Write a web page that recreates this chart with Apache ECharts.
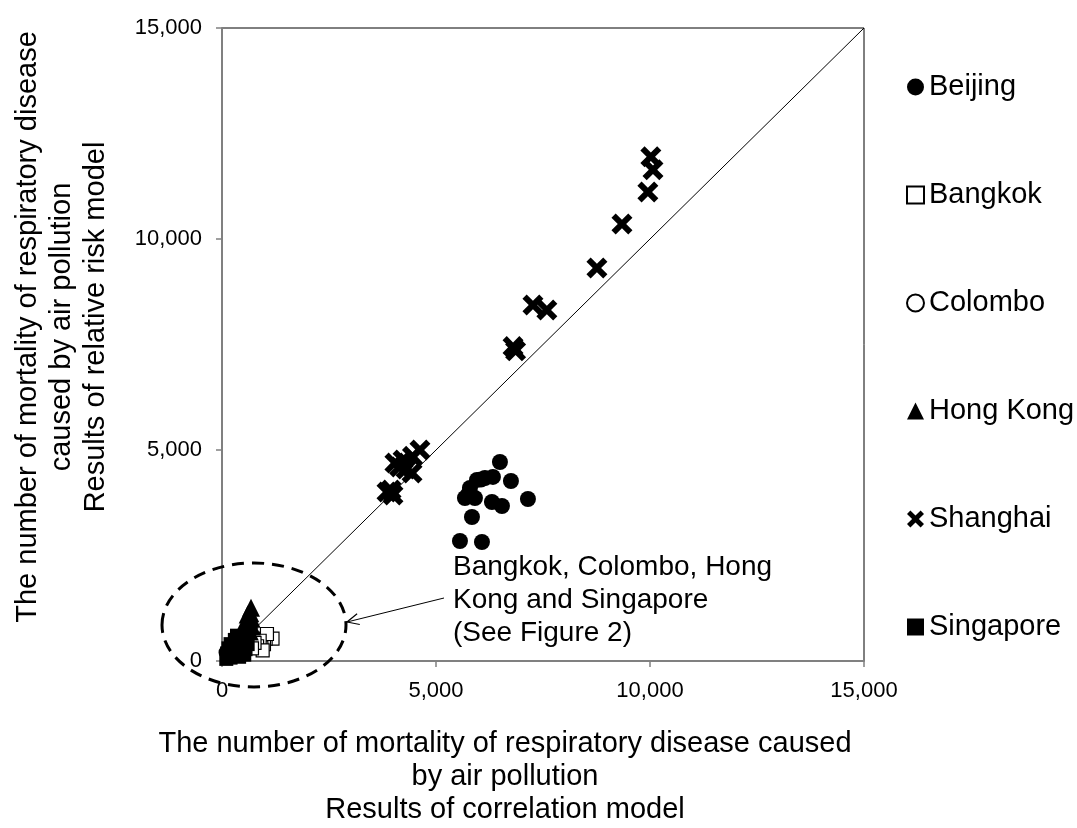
<!DOCTYPE html>
<html>
<head>
<meta charset="utf-8">
<script src="https://cdn.jsdelivr.net/npm/echarts@6/dist/echarts.min.js"></script>
<style>
  html, body { margin: 0; padding: 0; background: #fff; }
  #chart { width: 1077px; height: 828px; }
</style>
</head>
<body>
<div id="chart"></div>
<script>
// values: [correlation model, relative risk model]
var beijing = [[6494,4716],[6751,4266],[7148,3839],[5957,4290],[6144,4337],[6330,4361],[5793,4100],
  [5676,3863],[5910,3863],[6307,3768],[6541,3673],[5840,3413],[5560,2844],[6074,2820],[6050,4300],[5750,3950]];
var bangkok = [[1180,530],[1020,530],[980,400],[920,320],[1050,640],[880,480],[820,350],[950,250],[760,430],[700,300]];
var colombo = [[150,100],[250,180],[350,220],[200,300],[300,280],[400,350],[100,200],[450,250]];
var hongKong = [[677,1260],[660,1130],[690,1000],[640,980],[620,850],[700,820],[580,720],[530,600],[480,500],
  [420,420],[650,700],[600,1100],[560,950],[520,800],[480,700],[440,600],[380,520],[330,450]];
var shanghai = [[10020,11950],[10070,11640],[9950,11115],[9345,10357],[8760,9314],[7265,8437],[7590,8319],[6800,7450],
  [6860,7350],[4625,5000],[4450,4850],[4230,4764],[4040,4690],[4300,4550],[4440,4456],[4150,4600],[3855,4005],[3995,3934],[3950,4050]];
var singapore = [[100,50],[150,120],[200,80],[250,200],[300,150],[350,260],[420,200],[480,330],[550,280],[600,400],
  [400,100],[300,350],[200,250],[120,180],[300,500],[200,400],[350,600],[450,550],[150,300],[520,150]];
var diagonal = [[0,0],[15000,15000]];
var cityNames = ['Beijing','Bangkok','Colombo','Hong Kong','Shanghai','Singapore'];
var axisMin = 0, axisMax = 15000, axisStep = 5000;

var font = '"Liberation Sans", Arial, sans-serif';
var crossPath = 'path://M0,2 L2,0 L5,3 L8,0 L10,2 L7,5 L10,8 L8,10 L5,7 L2,10 L0,8 L3,5 Z';

var chart = echarts.init(document.getElementById('chart'));

var option = {
  backgroundColor: '#fff',
  animation: false,
  textStyle: { fontFamily: font, color: '#000' },
  grid: { left: 222, right: 213, top: 28, bottom: 167, show: true, borderColor: '#000', borderWidth: 1 },
  legend: {
    data: cityNames,
    orient: 'vertical',
    left: 901,
    top: 67,
    itemWidth: 17,
    itemHeight: 17,
    itemGap: 78,
    textStyle: { fontSize: 29, lineHeight: 30, color: '#000', fontFamily: font }
  },
  xAxis: {
    type: 'value', min: axisMin, max: axisMax, interval: axisStep,
    splitLine: { show: false },
    axisLine: { lineStyle: { color: '#808080', width: 2 } },
    axisTick: { show: true, length: 6, lineStyle: { color: '#808080', width: 1.5 } },
    axisLabel: { fontSize: 22, color: '#000', margin: 19, formatter: function (v) { return v.toLocaleString('en-US'); } }
  },
  yAxis: {
    type: 'value', min: axisMin, max: axisMax, interval: axisStep,
    splitLine: { show: false },
    axisLine: { lineStyle: { color: '#808080', width: 2 } },
    axisTick: { show: true, length: 6, lineStyle: { color: '#808080', width: 1.5 } },
    axisLabel: { fontSize: 22, color: '#000', margin: 20, formatter: function (v) { return v.toLocaleString('en-US'); } }
  },
  series: [
    { name: '1:1', type: 'line', data: diagonal, showSymbol: false, silent: true, z: 1,
      lineStyle: { color: '#000', width: 1 } },
    { name: 'Beijing', type: 'scatter', data: beijing, symbol: 'circle', symbolSize: 16,
      itemStyle: { color: '#000', opacity: 1 } },
    { name: 'Bangkok', type: 'scatter', data: bangkok, symbol: 'rect', symbolSize: 13,
      itemStyle: { color: '#fff', borderColor: '#000', borderWidth: 1.2, opacity: 1 } },
    { name: 'Colombo', type: 'scatter', data: colombo, symbol: 'circle', symbolSize: 13,
      itemStyle: { color: '#fff', borderColor: '#000', borderWidth: 2.5, opacity: 1 } },
    { name: 'Hong Kong', type: 'scatter', data: hongKong, symbol: 'triangle', symbolSize: 18,
      itemStyle: { color: '#000', opacity: 1 } },
    { name: 'Shanghai', type: 'scatter', data: shanghai, symbol: crossPath, symbolSize: 21,
      itemStyle: { color: '#000', opacity: 1 } },
    { name: 'Singapore', type: 'scatter', data: singapore, symbol: 'rect', symbolSize: 14,
      itemStyle: { color: '#000', opacity: 1 } }
  ],
  graphic: [
    // y axis title
    { type: 'text', x: 62, y: 327, rotation: Math.PI / 2,
      style: { text: 'The number of mortality of respiratory disease\ncaused by air pollution\nResults of relative risk model',
        font: '29px ' + font, lineHeight: 34, fill: '#000', align: 'center', verticalAlign: 'middle' } },
    // x axis title
    { type: 'text', x: 505, y: 727,
      style: { text: 'The number of mortality of respiratory disease caused\nby air pollution\nResults of correlation model',
        font: '29px ' + font, lineHeight: 33, fill: '#000', align: 'center', verticalAlign: 'top' } },
    // dashed ellipse around the small cities
    { type: 'ellipse', shape: { cx: 254, cy: 625, rx: 92, ry: 62 }, z: 100,
      style: { fill: 'none', stroke: '#000', lineWidth: 3, lineDash: [12, 8] } },
    // arrow
    { type: 'line', shape: { x1: 444, y1: 598, x2: 347, y2: 622 }, z: 100,
      style: { stroke: '#000', lineWidth: 1 } },
    { type: 'polyline', shape: { points: [[359.8, 624.5], [347, 622], [357.1, 613.8]] }, z: 100,
      style: { fill: 'none', stroke: '#000', lineWidth: 1.2 } },
    // annotation
    { type: 'text', x: 453, y: 551, z: 100,
      style: { text: 'Bangkok, Colombo, Hong\nKong and Singapore\n(See Figure 2)',
        font: '28px ' + font, lineHeight: 33, fill: '#000', align: 'left', verticalAlign: 'top' } }
  ]
};

chart.setOption(option);
</script>
</body>
</html>
